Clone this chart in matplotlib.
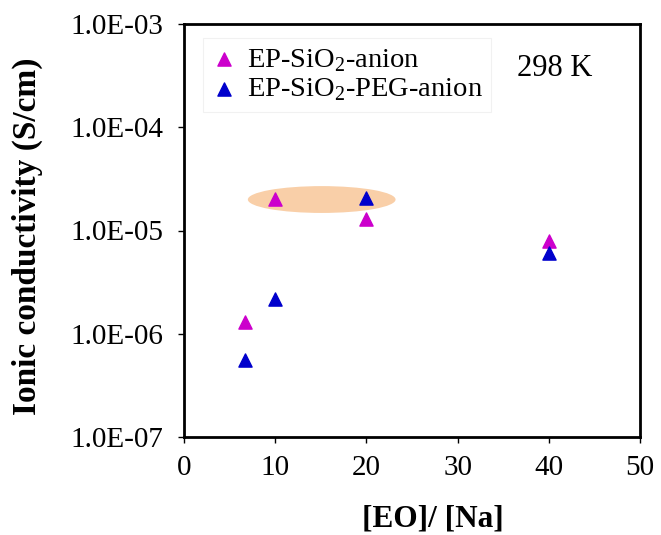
import matplotlib.pyplot as plt
from matplotlib.patches import Ellipse

# [EO]/[Na] ratios and ionic conductivity (S/cm)
eo_na_anion = [6.7, 10, 20, 40]
sigma_anion = [1.3e-6, 2.0e-5, 1.3e-5, 7.9e-6]
eo_na_peg = [6.7, 10, 20, 40]
sigma_peg = [5.6e-7, 2.15e-6, 2.05e-5, 6.0e-6]

plt.rcParams['font.family'] = ['Liberation Serif', 'DejaVu Serif']
plt.rcParams['mathtext.fontset'] = 'custom'
plt.rcParams['mathtext.rm'] = 'Liberation Serif'

fig = plt.figure(figsize=(6.61, 5.35), dpi=100)
ax = fig.add_axes([184 / 661, (535 - 437) / 535, (640 - 184) / 661, (437 - 24) / 535])

# highlight ellipse (log-y axis, so draw in axes fraction for y)
ell = Ellipse((15.1, 0.575), width=16.2, height=0.065,
              transform=ax.get_xaxis_transform(), facecolor='#f9cfa8',
              edgecolor='none', zorder=1)
ax.add_patch(ell)

ax.scatter(eo_na_anion, sigma_anion, marker='^', s=90, color='#cc00cc',
           label=r'EP-SiO$_2$-anion', zorder=3)
ax.scatter(eo_na_peg, sigma_peg, marker='^', s=90, color='#0000cc',
           label=r'EP-SiO$_2$-PEG-anion', zorder=3)

ax.set_yscale('log')
ax.set_ylim(1e-7, 1e-3)
ax.set_xlim(0, 50)
ax.set_xticks([0, 10, 20, 30, 40, 50])
ax.set_yticks([1e-7, 1e-6, 1e-5, 1e-4, 1e-3])
ax.set_yticklabels(['1.0E-07', '1.0E-06', '1.0E-05', '1.0E-04', '1.0E-03'])
ax.minorticks_off()
ax.tick_params(axis='both', labelsize=21, width=1, length=4, direction='out')
ax.tick_params(axis='x', pad=9)
ax.tick_params(axis='y', pad=11)

for sp in ax.spines.values():
    sp.set_linewidth(2)

ax.set_xlabel('[EO]/ [Na]', fontsize=22.5, fontweight='bold')
ax.set_ylabel('Ionic conductivity (S/cm)', fontsize=24, fontweight='bold')
ax.xaxis.set_label_coords(0.545, -0.163)
ax.yaxis.set_label_coords(-0.309, 0.487)

leg = ax.legend(loc='upper left', bbox_to_anchor=(0.01, 1.0), fontsize=20.5,
                handletextpad=0.35, handlelength=0.9, borderpad=0.3,
                labelspacing=0.1, frameon=True, fancybox=False)
leg.get_frame().set_edgecolor('#eeeeee')
leg.get_frame().set_linewidth(0.8)

ax.text(0.73, 0.893, '298 K', transform=ax.transAxes, fontsize=22, va='center')

fig.savefig('out.png', dpi=100)
